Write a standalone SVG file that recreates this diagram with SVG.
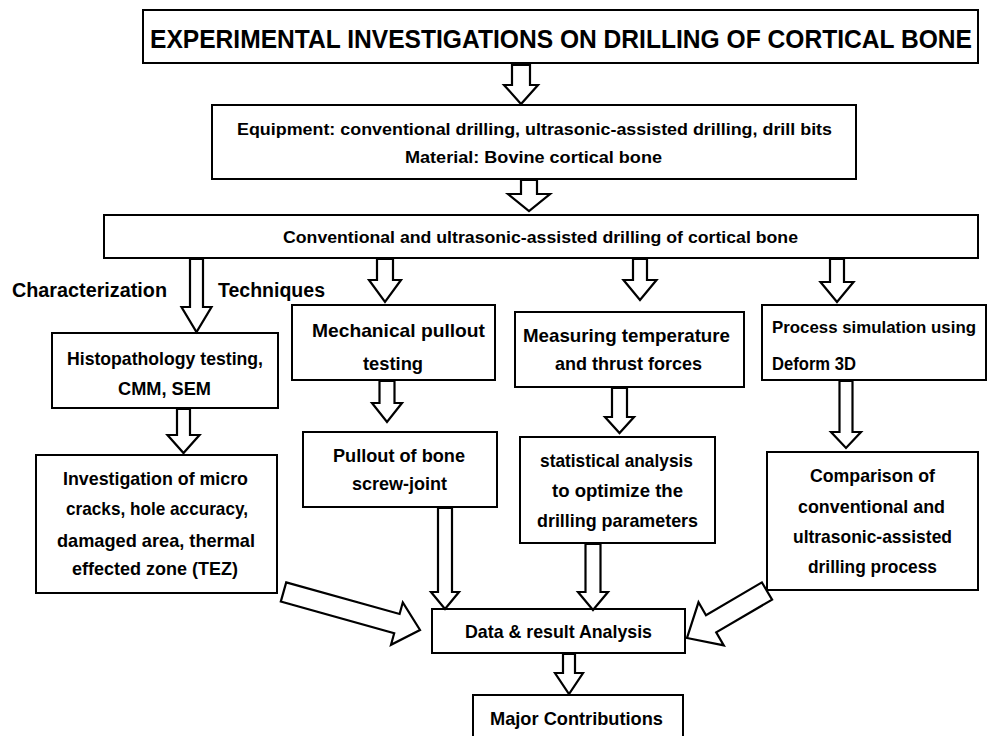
<svg xmlns="http://www.w3.org/2000/svg" width="990" height="736" viewBox="0 0 990 736">
<style>
.box{fill:#fff;stroke:#000;stroke-width:2}
.arr{fill:#fff;stroke:#000;stroke-width:2.2;stroke-linejoin:miter}
text{font-family:"Liberation Sans",Arial,sans-serif;font-weight:bold;fill:#000}
.c{text-anchor:middle}
.t{font-size:18.5px}
.s{font-size:17px}
</style>
<rect width="990" height="736" fill="#fff"/>
<g id="title">
<rect class="box" x="143" y="10" width="835" height="53"/>
<text x="150" y="48" font-size="25" textLength="822" lengthAdjust="spacingAndGlyphs">EXPERIMENTAL INVESTIGATIONS ON DRILLING OF CORTICAL BONE</text>
</g>
<g id="equipment">
<rect class="box" x="212" y="105" width="644" height="74"/>
<text class="s c" x="534.5" y="135" textLength="595" lengthAdjust="spacingAndGlyphs">Equipment: conventional drilling, ultrasonic-assisted  drilling, drill bits</text>
<text class="s c" x="533.5" y="163" textLength="257" lengthAdjust="spacingAndGlyphs">Material: Bovine cortical bone</text>
</g>
<g id="conventional">
<rect class="box" x="104" y="215" width="874" height="43"/>
<text class="s c" x="540.5" y="243" textLength="515" lengthAdjust="spacingAndGlyphs">Conventional and ultrasonic-assisted drilling of cortical bone</text>
</g>
<g id="labels">
<text x="12" y="297" font-size="19.5" textLength="155" lengthAdjust="spacingAndGlyphs">Characterization</text>
<text x="218" y="297" font-size="19.5" textLength="107" lengthAdjust="spacingAndGlyphs">Techniques</text>
</g>
<g id="histopathology">
<rect class="box" x="52" y="333" width="226" height="75"/>
<text class="t c" x="165" y="365" textLength="196" lengthAdjust="spacingAndGlyphs">Histopathology testing,</text>
<text class="t c" x="164.5" y="395" textLength="93" lengthAdjust="spacingAndGlyphs">CMM, SEM</text>
</g>
<g id="mechanical">
<rect class="box" x="292" y="305" width="203" height="75"/>
<text class="t c" x="398.5" y="337" textLength="173" lengthAdjust="spacingAndGlyphs">Mechanical pullout</text>
<text class="t c" x="393" y="370" textLength="60" lengthAdjust="spacingAndGlyphs">testing</text>
</g>
<g id="measuring">
<rect class="box" x="515" y="312" width="229" height="75"/>
<text class="t c" x="626.5" y="342" textLength="207" lengthAdjust="spacingAndGlyphs">Measuring temperature</text>
<text class="t c" x="628.5" y="370" textLength="147" lengthAdjust="spacingAndGlyphs">and thrust forces</text>
</g>
<g id="simulation">
<rect class="box" x="762" y="305" width="224" height="75"/>
<text x="772" y="333" font-size="17" textLength="204" lengthAdjust="spacingAndGlyphs">Process simulation using</text>
<text class="t" x="772" y="370" textLength="84" lengthAdjust="spacingAndGlyphs">Deform 3D</text>
</g>
<g id="investigation">
<rect class="box" x="36" y="455" width="241" height="138"/>
<text class="t c" x="155.5" y="485" textLength="185" lengthAdjust="spacingAndGlyphs">Investigation of micro</text>
<text class="t c" x="157" y="515" textLength="182" lengthAdjust="spacingAndGlyphs">cracks, hole accuracy,</text>
<text class="t c" x="156" y="547" textLength="198" lengthAdjust="spacingAndGlyphs">damaged area, thermal</text>
<text class="t c" x="155" y="575" textLength="166" lengthAdjust="spacingAndGlyphs">effected zone (TEZ)</text>
</g>
<g id="pullout">
<rect class="box" x="303" y="432" width="194" height="75"/>
<text class="t c" x="399" y="462" textLength="132" lengthAdjust="spacingAndGlyphs">Pullout of bone</text>
<text class="t c" x="399.5" y="490" textLength="95" lengthAdjust="spacingAndGlyphs">screw-joint</text>
</g>
<g id="statistical">
<rect class="box" x="520" y="437" width="195" height="106"/>
<text class="t c" x="616.5" y="467" textLength="153" lengthAdjust="spacingAndGlyphs">statistical analysis</text>
<text class="t c" x="617.5" y="497" textLength="131" lengthAdjust="spacingAndGlyphs">to optimize the</text>
<text class="t c" x="617.5" y="527" textLength="161" lengthAdjust="spacingAndGlyphs">drilling parameters</text>
</g>
<g id="comparison">
<rect class="box" x="767" y="452" width="211" height="138"/>
<text class="t c" x="872.5" y="482" textLength="125" lengthAdjust="spacingAndGlyphs">Comparison of</text>
<text class="t c" x="871.5" y="513" textLength="147" lengthAdjust="spacingAndGlyphs">conventional and</text>
<text class="t c" x="872.5" y="543" textLength="159" lengthAdjust="spacingAndGlyphs">ultrasonic-assisted</text>
<text class="t c" x="872.5" y="573" textLength="129" lengthAdjust="spacingAndGlyphs">drilling process</text>
</g>
<g id="data">
<rect class="box" x="432" y="609" width="253" height="44"/>
<text class="t c" x="558.5" y="638" textLength="187" lengthAdjust="spacingAndGlyphs">Data &amp; result Analysis</text>
</g>
<g id="major">
<rect class="box" x="473" y="695" width="210" height="50"/>
<text class="t c" x="576.5" y="725" textLength="173" lengthAdjust="spacingAndGlyphs">Major Contributions</text>
</g>
<g id="connectors">
<polygon class="arr" points="512,65 530,65 530,85 538,85 521,104 504,85 512,85"/>
<polygon class="arr" points="521,180 537,180 537,194 550,194 529,211 508,194 521,194"/>
<polygon class="arr" points="190,259 203,259 203,307 211.5,307 196.5,332 181.5,307 190,307"/>
<polygon class="arr" points="377,259 393,259 393,280 401,280 385,302 369,280 377,280"/>
<polygon class="arr" points="633,259 647,259 647,280 656.5,280 640,300 623.5,280 633,280"/>
<polygon class="arr" points="830,259 844,259 844,282 853.5,282 837,302 820.5,282 830,282"/>
<polygon class="arr" points="177,409 190,409 190,435 199.5,435 183.5,453 167.5,435 177,435"/>
<polygon class="arr" points="379.5,381 394.5,381 394.5,403 402,403 387,422 372,403 379.5,403"/>
<polygon class="arr" points="612,388 627,388 627,417 634,417 619.5,433 605,417 612,417"/>
<polygon class="arr" points="839.5,381 852.5,381 852.5,432 861,432 846,448 831,432 839.5,432"/>
<polygon class="arr" points="438,508 452,508 452,592 459,592 445,609 431,592 438,592"/>
<polygon class="arr" points="585.5,544 600.5,544 600.5,592 608,592 593,610 578,592 585.5,592"/>
<polygon class="arr" points="563,654 575,654 575,673 583,673 569,694 555,673 563,673"/>
<polygon class="arr" points="286.2,582.4 399.6,614 402.8,602.4 420,630 391,644.8 394.2,633.2 280.8,601.6"/>
<polygon class="arr" points="761.9,582.4 706,615.2 698.5,602.3 687,638 723.8,645.4 716.2,632.4 772.1,599.6"/>
</g>
</svg>
